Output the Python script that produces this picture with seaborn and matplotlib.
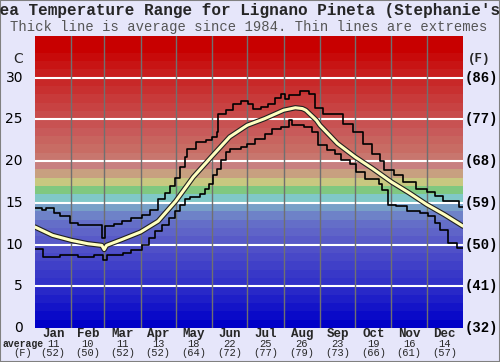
import numpy as np
import pandas as pd
import matplotlib
matplotlib.use("Agg")
import matplotlib.pyplot as plt
import matplotlib.patheffects as pe
import matplotlib.transforms as mtransforms
import seaborn as sns

# month info
months = ["Jan", "Feb", "Mar", "Apr", "May", "Jun", "Jul", "Aug", "Sep", "Oct", "Nov", "Dec"]
month_days = [31, 28, 31, 30, 31, 30, 31, 31, 30, 31, 30, 31]
avg_c = [11, 10, 11, 13, 18, 22, 25, 26, 23, 19, 16, 14]
avg_f = [52, 50, 52, 52, 64, 72, 77, 79, 73, 66, 61, 57]

# average line (day of year, deg C)
avg_day = [0, 15, 31, 45, 57, 59, 61, 74, 90, 105, 120, 135, 151, 166, 181, 196,
           212, 222, 228, 231, 240, 243, 258, 273, 288, 304, 319, 334, 349, 365]
avg_temp = [12.1, 11.1, 10.5, 10.1, 9.9, 9.4, 9.9, 10.6, 11.5, 12.8, 15.2, 18.1, 20.6, 22.9, 24.3, 25.1,
            26.1, 26.4, 26.3, 26.1, 24.9, 24.3, 22.1, 20.5, 19.1, 17.5, 16.2, 14.8, 13.6, 12.2]

# highest recorded (step line)
max_day = [0, 6, 9, 16, 21, 30, 37, 57, 60, 67, 74, 82, 91, 98, 105, 111, 115, 119, 124,
           128, 130, 137, 146, 151, 155, 156, 163, 169, 176, 182, 186, 193, 199, 205, 210,
           213, 217, 226, 234, 239, 246, 263, 271, 280, 287, 294, 298, 306, 314, 325, 334,
           341, 348, 362, 365]
max_temp = [14.4, 14.2, 14.4, 13.8, 13.4, 12.6, 12.4, 10.8, 12.2, 12.5, 12.8, 13.2, 13.6, 14.2, 15.4,
            16.2, 17.0, 18.0, 19.3, 20.5, 21.5, 22.3, 22.5, 22.9, 23.5, 25.7, 26.1, 26.9, 27.2, 26.9,
            26.3, 26.5, 26.9, 27.6, 28.1, 27.5, 27.9, 28.4, 28.1, 26.4, 25.7, 24.5, 23.5, 22.1, 20.9,
            20.0, 18.9, 18.3, 17.5, 16.7, 16.3, 15.8, 15.2, 14.5, 14.5]

# lowest recorded (step line)
min_day = [0, 7, 21, 28, 37, 50, 58, 61, 68, 75, 82, 91, 97, 102, 108, 114, 119, 124, 128,
           132, 141, 145, 148, 152, 155, 159, 163, 166, 176, 181, 188, 196, 202, 210, 217,
           219, 229, 236, 241, 249, 256, 261, 269, 274, 281, 293, 296, 301, 308, 317, 328,
           335, 341, 345, 352, 360, 365]
min_temp = [9.5, 8.5, 8.8, 8.7, 8.5, 8.7, 8.2, 8.7, 8.8, 9.0, 9.4, 10.0, 10.8, 11.6, 12.4, 13.2,
            14.0, 14.8, 15.4, 15.7, 16.0, 16.7, 17.3, 18.3, 19.1, 20.1, 21.1, 21.5, 21.7, 22.1,
            22.7, 23.3, 23.9, 24.1, 24.9, 24.3, 24.1, 23.5, 21.9, 21.3, 20.9, 20.1, 19.6, 18.7,
            17.8, 17.3, 16.5, 14.8, 14.6, 14.0, 13.8, 13.4, 12.6, 11.8, 10.2, 9.6, 9.6]

# background band colours, one per degree from 0 to 35
band_rgb = [(0, 0, 200), (10, 10, 200), (20, 20, 200), (30, 30, 200), (40, 40, 200),
            (50, 50, 200), (56, 56, 200), (64, 64, 200), (72, 72, 200), (80, 80, 200),
            (88, 90, 200), (95, 100, 200), (100, 110, 200), (110, 130, 200), (120, 160, 200),
            (128, 200, 200), (128, 200, 128), (200, 200, 128), (200, 160, 128), (200, 128, 128),
            (200, 118, 110), (200, 108, 100), (200, 100, 95), (200, 90, 90), (200, 82, 82),
            (200, 75, 75), (200, 66, 66), (200, 58, 58), (200, 48, 48), (200, 40, 40),
            (200, 30, 30), (200, 20, 20), (200, 10, 10), (200, 0, 0), (200, 0, 0)]

bg = "#e6e6fa"
fig = plt.figure(figsize=(5, 3.62), dpi=100, facecolor=bg)
ax = fig.add_axes([0.07, 0.094, 0.856, 0.8066])
sns.set_style("white")

for i, c in enumerate(band_rgb):
    ax.axhspan(i, i + 1, color=np.array(c) / 255, lw=0, zorder=0)

for t in range(5, 35, 5):
    ax.axhline(t, color="white", lw=1.5, zorder=1)
for b in np.cumsum(month_days)[:-1]:
    ax.axvline(b, color="#707070", lw=1, zorder=1)

mx = pd.DataFrame({"day": max_day, "temp": max_temp})
mn = pd.DataFrame({"day": min_day, "temp": min_temp})
av = pd.DataFrame({"day": avg_day, "temp": avg_temp})
sns.lineplot(data=mx, x="day", y="temp", drawstyle="steps-post", color="black", lw=1.2, ax=ax, zorder=3)
sns.lineplot(data=mn, x="day", y="temp", drawstyle="steps-post", color="black", lw=1.2, ax=ax, zorder=3)
sns.lineplot(data=av, x="day", y="temp", color="#ffffc0", lw=2.2, ax=ax, zorder=4,
             path_effects=[pe.Stroke(linewidth=3.8, foreground="#202020"), pe.Normal()])

ax.set_xlim(0, 365)
ax.set_ylim(0, 35)
ax.set_xticks([])
ax.set_yticks([])
ax.set_xlabel("")
ax.set_ylabel("")
for s in ax.spines.values():
    s.set_visible(False)

# left / right axis labels
trl = mtransforms.blended_transform_factory(fig.transFigure, ax.transData)
for t in range(0, 35, 5):
    fig.text(0.046, t, str(t), transform=trl, ha="right", va="center", fontsize=10,
             family="DejaVu Sans", color="black")
    f = round(t * 9 / 5 + 32)
    fig.text(0.929, t, "(%d)" % f, transform=trl, ha="left", va="center", fontsize=10,
             family="Liberation Mono", weight="bold", color="black")
fig.text(0.036, 32.2, "C", transform=trl, ha="center", va="center", fontsize=10, family="DejaVu Sans")
fig.text(0.958, 32.2, "(F)", transform=trl, ha="center", va="center", fontsize=9,
         family="Liberation Mono", weight="bold")

# month labels and averages
starts = np.concatenate([[0], np.cumsum(month_days)[:-1]])
trb = mtransforms.blended_transform_factory(ax.transData, fig.transFigure)
for m, s, d, c, f in zip(months, starts, month_days, avg_c, avg_f):
    xc = s + d / 2
    fig.text(xc, 1 - 334 / 362, m, transform=trb, ha="center", va="center", fontsize=9,
             family="Liberation Mono", weight="bold")
    fig.text(xc, 1 - 344 / 362, str(c), transform=trb, ha="center", va="center", fontsize=7.5,
             family="Liberation Mono")
    fig.text(xc, 1 - 353 / 362, "(%d)" % f, transform=trb, ha="center", va="center", fontsize=7.5,
             family="Liberation Mono")
fig.text(0.046, 1 - 344 / 362, "average", ha="center", va="center", fontsize=7,
         family="Liberation Mono", weight="bold")
fig.text(0.046, 1 - 353 / 362, "(F)", ha="center", va="center", fontsize=7.5,
         family="Liberation Mono")

# titles
fig.text(-0.019, 1 - 10 / 362, "Sea Temperature Range for Lignano Pineta (Stephanie's Beach)",
         ha="left", va="center", fontsize=11.5, family="Liberation Mono", weight="bold")
fig.text(0.498, 1 - 27 / 362, "Thick line is average since 1984. Thin lines are extremes",
         ha="center", va="center", fontsize=10, family="Liberation Mono", color="#555555")

fig.patches.append(plt.Rectangle((0, 0), 1, 1, transform=fig.transFigure, fill=False,
                                 edgecolor="#808080", lw=1.5))
fig.savefig("out.png", dpi=100, facecolor=bg)
